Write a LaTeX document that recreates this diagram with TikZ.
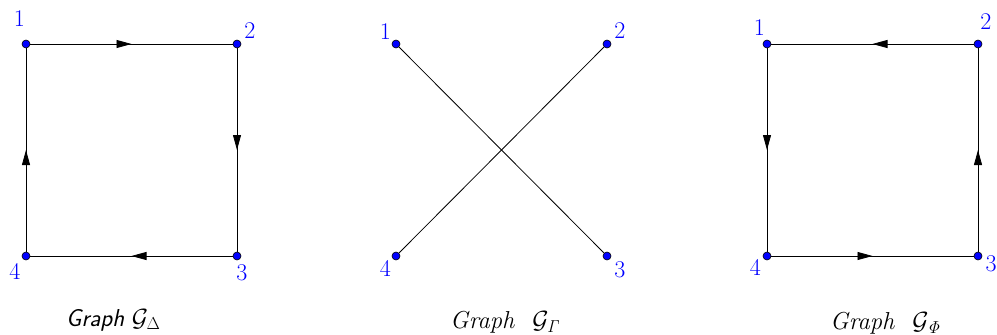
\documentclass[tikz,border=0pt]{standalone}
\usetikzlibrary{arrows.meta,decorations.markings}
\begin{document}
\begin{tikzpicture}[x=1pt,y=-1pt,
  vtx/.style={circle,fill=blue,draw=black,line width=0.6pt,inner sep=0pt,minimum size=8pt},
  lbl/.style={text=blue,font=\fontsize{24}{28}\selectfont,inner sep=0pt},
  edge/.style={black,line width=0.8pt},
  midarrow/.style={edge,postaction={decorate},decoration={markings,
     mark=at position 0.5 with {\arrow{Triangle[length=15pt,width=8pt]}}}},
  captxt/.style={font=\fontsize{24.5}{30}\selectfont,inner sep=0pt,anchor=base west}]
\useasboundingbox (0,0) rectangle (997,335);
% Graph Delta
\node[vtx] (a1) at (26,44) {};
\node[vtx] (a2) at (237,44) {};
\node[vtx] (a3) at (237,256) {};
\node[vtx] (a4) at (26,256) {};
\draw[midarrow] (a1) -- (a2);
\draw[midarrow] (a2) -- (a3);
\draw[midarrow] (a3) -- (a4);
\draw[midarrow] (a4) -- (a1);
\node[lbl] (la1) at (19.5,18.5) {1};
\node[lbl] (la2) at (250,30.5) {2};
\node[lbl] (la3) at (242,273) {3};
\node[lbl] (la4) at (15,271) {4};
\node[captxt] (ca) at (66,326) {\sffamily\itshape Graph $\mathcal{G}_{\Delta}$};
% Graph Gamma
\node[vtx] (b1) at (396,44) {};
\node[vtx] (b2) at (607,44) {};
\node[vtx] (b3) at (607,256) {};
\node[vtx] (b4) at (396,256) {};
\draw[edge] (b1) -- (b3);
\draw[edge] (b2) -- (b4);
\node[lbl] (lb1) at (385.5,31.5) {1};
\node[lbl] (lb2) at (620,30.5) {2};
\node[lbl] (lb3) at (620,270) {3};
\node[lbl] (lb4) at (385.5,268) {4};
\node[captxt] (cb) at (450,328.5) {\itshape Graph\hspace{18pt}$\mathcal{G}_{\mathit{\Gamma}}$};
% Graph Phi
\node[vtx] (c1) at (767,44) {};
\node[vtx] (c2) at (978,44) {};
\node[vtx] (c3) at (978,256) {};
\node[vtx] (c4) at (767,256) {};
\draw[midarrow] (c2) -- (c1);
\draw[midarrow] (c1) -- (c4);
\draw[midarrow] (c4) -- (c3);
\draw[midarrow] (c3) -- (c2);
\node[lbl] (lc1) at (759.5,28) {1};
\node[lbl] (lc2) at (986,22) {2};
\node[lbl] (lc3) at (991,264) {3};
\node[lbl] (lc4) at (755.5,267.5) {4};
\node[captxt] (cc) at (830,329.5) {\itshape Graph\hspace{18pt}$\mathcal{G}_{\mathit{\Phi}}$};
\end{tikzpicture}
\end{document}
